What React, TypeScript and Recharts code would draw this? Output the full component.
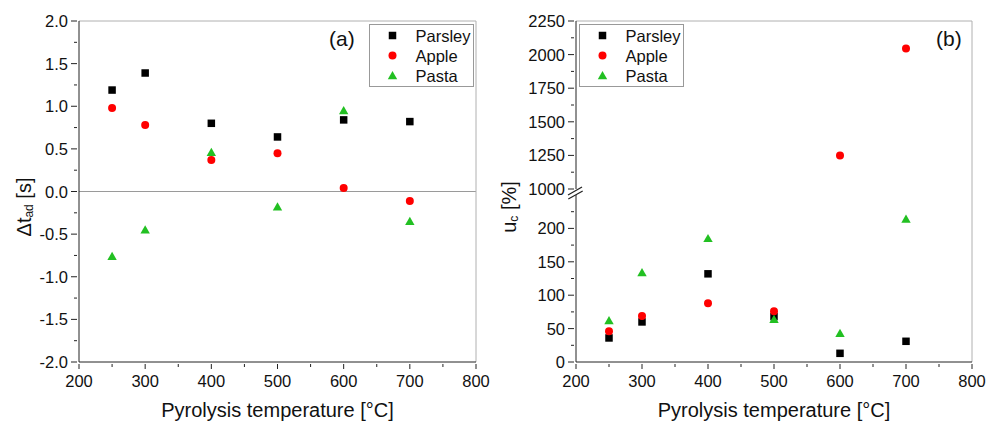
import React from "react";
import { ScatterChart, Scatter, XAxis, YAxis, ReferenceLine, Legend, Label } from "recharts";

// pyrolysis temperatures [°C]
const temps = [250, 300, 400, 500, 600, 700];

// (a) delta t_ad [s]
const parsleyDt = [1.19, 1.39, 0.8, 0.64, 0.84, 0.82];
const appleDt = [0.98, 0.78, 0.37, 0.45, 0.04, -0.11];
const pastaDt = [-0.76, -0.45, 0.46, -0.18, 0.95, -0.35];

// (b) u_c [%]
const parsleyUc = [36, 60, 132, 68, 13, 31];
const appleUc = [46, 69, 88, 76, 1250, 2045];
const pastaUc = [62, 134, 185, 64, 43, 214];

const xTicks = [200, 250, 300, 350, 400, 450, 500, 550, 600, 650, 700, 750, 800];
const dtTicks = [-2, -1.75, -1.5, -1.25, -1, -0.75, -0.5, -0.25, 0, 0.25, 0.5, 0.75, 1, 1.25, 1.5, 1.75, 2];
const ucLowTicks = [0, 25, 50, 75, 100, 125, 150, 175, 200, 225];
const ucHighTicks = [1000, 1125, 1250, 1375, 1500, 1625, 1750, 1875, 2000, 2125, 2250];
const BREAK = 1000;

const AXIS = "#222";
const FRAME = "#b0b0b0";
const TEXT = "#111";

type Kind = "square" | "circle" | "triangle";
const SERIES: { name: string; color: string; kind: Kind; dt: number[]; uc: number[] }[] = [
  { name: "Parsley", color: "#000000", kind: "square", dt: parsleyDt, uc: parsleyUc },
  { name: "Apple", color: "#ff0000", kind: "circle", dt: appleDt, uc: appleUc },
  { name: "Pasta", color: "#22c022", kind: "triangle", dt: pastaDt, uc: pastaUc },
];

function Marker({ kind, cx, cy, color }: { kind: Kind; cx: number; cy: number; color: string }) {
  if (kind === "square") return <rect x={cx - 3.75} y={cy - 3.75} width={7.5} height={7.5} fill={color} />;
  if (kind === "circle") return <circle cx={cx} cy={cy} r={4} fill={color} />;
  return <polygon points={`${cx},${cy - 4.5} ${cx - 4.7},${cy + 3.7} ${cx + 4.7},${cy + 3.7}`} fill={color} />;
}

const near = (v: number, step: number) => Math.abs(v / step - Math.round(v / step)) < 1e-6;

const xTick = (p: any) => {
  const v = p.payload.value;
  const major = near(v, 100);
  return (
    <g>
      <line x1={p.x} x2={p.x} y1={p.y} y2={p.y + (major ? 5 : 3)} stroke={AXIS} />
      {major && (
        <text x={p.x} y={p.y + 23} textAnchor="middle" fontSize={16.5} fill={TEXT}>
          {v}
        </text>
      )}
    </g>
  );
};

const yTick = (step: number, fmt: (v: number) => string) => (p: any) => {
  const v = p.payload.value;
  const major = near(v, step);
  return (
    <g>
      <line x1={p.x - (major ? 6 : 3)} x2={p.x} y1={p.y} y2={p.y} stroke={AXIS} />
      {major && (
        <text x={p.x - 9} y={p.y + 6} textAnchor="end" fontSize={16.5} fill={TEXT}>
          {fmt(v)}
        </text>
      )}
    </g>
  );
};

function LegendBox() {
  return (
    <svg width={105} height={63} style={{ display: "block" }}>
      <rect x={0.5} y={0.5} width={104} height={62} fill="#fff" stroke="#999" />
      {SERIES.map((s, i) => (
        <g key={s.name}>
          <Marker kind={s.kind} cx={23.5} cy={11.5 + 20 * i} color={s.color} />
          <text x={46.5} y={11.5 + 20 * i + 6} fontSize={16.5} fill={TEXT}>
            {s.name}
          </text>
        </g>
      ))}
    </svg>
  );
}

const rows = (vals: number[]) => temps.map((t, i) => ({ t, v: vals[i] }));

const xTitle = (
  <Label value="Pyrolysis temperature [°C]" position="insideBottom" offset={4} fontSize={20} fill={TEXT} />
);

export default function App() {
  return (
    <div
      style={{
        position: "absolute",
        left: 0,
        top: 0,
        width: 987,
        height: 421,
        background: "#fff",
        fontFamily: '"Liberation Sans", Arial, sans-serif',
      }}
    >
      {/* panel (a) */}
      <div style={{ position: "absolute", left: 0, top: 0 }}>
        <ScatterChart width={490} height={421} margin={{ top: 21, right: 14, bottom: 0, left: 0 }}>
          <XAxis
            type="number"
            dataKey="t"
            domain={[200, 800]}
            ticks={xTicks}
            interval={0}
            height={59}
            tickSize={0}
            tickLine={false}
            axisLine={{ stroke: AXIS }}
            tick={xTick}
          >
            {xTitle}
          </XAxis>
          <YAxis
            type="number"
            dataKey="v"
            domain={[-2, 2]}
            ticks={dtTicks}
            interval={0}
            width={79}
            tickSize={0}
            tickLine={false}
            axisLine={{ stroke: AXIS }}
            tick={yTick(0.5, (v) => v.toFixed(1))}
          >
            <Label
              content={() => (
                <text
                  x={24}
                  y={207}
                  transform="rotate(-90, 24, 207)"
                  textAnchor="middle"
                  dominantBaseline="central"
                  fontSize={20}
                  fill={TEXT}
                >
                  Δt
                  <tspan fontSize={12} dy={5}>
                    ad
                  </tspan>
                  <tspan dy={-5}> [s]</tspan>
                </text>
              )}
            />
          </YAxis>
          <ReferenceLine y={0} stroke="#9a9a9a" />
          <ReferenceLine y={2} stroke={FRAME} />
          <ReferenceLine x={800} stroke={FRAME} />
          {SERIES.map((s) => (
            <Scatter
              key={s.name}
              name={s.name}
              data={rows(s.dt)}
              isAnimationActive={false}
              shape={(p: any) => <Marker kind={s.kind} cx={p.cx} cy={p.cy} color={s.color} />}
            />
          ))}
          <Legend
            layout="vertical"
            align="center"
            verticalAlign="middle"
            content={() => <LegendBox />}
            wrapperStyle={{ left: 369, top: 24, width: 105, height: 63 }}
          />
        </ScatterChart>
      </div>

      {/* panel (b), lower segment 0-250 */}
      <div style={{ position: "absolute", left: 490, top: 0 }}>
        <ScatterChart width={497} height={421} margin={{ top: 195, right: 15, bottom: 0, left: 0 }}>
          <XAxis
            type="number"
            dataKey="t"
            domain={[200, 800]}
            ticks={xTicks}
            interval={0}
            height={59}
            tickSize={0}
            tickLine={false}
            axisLine={{ stroke: AXIS }}
            tick={xTick}
          >
            {xTitle}
          </XAxis>
          <YAxis
            type="number"
            dataKey="v"
            domain={[0, 250]}
            ticks={ucLowTicks}
            interval={0}
            width={86}
            tickSize={0}
            tickLine={false}
            axisLine={{ stroke: AXIS }}
            tick={yTick(50, (v) => String(v))}
          >
            <Label
              content={() => (
                <text
                  x={19}
                  y={207}
                  transform="rotate(-90, 19, 207)"
                  textAnchor="middle"
                  dominantBaseline="central"
                  fontSize={20}
                  fill={TEXT}
                >
                  u
                  <tspan fontSize={12} dy={5}>
                    c
                  </tspan>
                  <tspan dy={-5}> [%]</tspan>
                </text>
              )}
            />
          </YAxis>
          <ReferenceLine
            segment={[
              { x: 800, y: 0 },
              { x: 800, y: 259 },
            ]}
            ifOverflow="visible"
            stroke={FRAME}
          />
          {SERIES.map((s) => (
            <Scatter
              key={s.name}
              name={s.name}
              data={rows(s.uc).filter((r) => r.v < BREAK)}
              isAnimationActive={false}
              shape={(p: any) => <Marker kind={s.kind} cx={p.cx} cy={p.cy} color={s.color} />}
            />
          ))}
        </ScatterChart>
      </div>

      {/* panel (b), upper segment 1000-2250 */}
      <div style={{ position: "absolute", left: 490, top: 0 }}>
        <ScatterChart width={497} height={421} margin={{ top: 21, right: 15, bottom: 232, left: 0 }}>
          <XAxis type="number" dataKey="t" domain={[200, 800]} hide />
          <YAxis
            type="number"
            dataKey="v"
            domain={[1000, 2250]}
            ticks={ucHighTicks}
            interval={0}
            width={86}
            tickSize={0}
            tickLine={false}
            axisLine={{ stroke: AXIS }}
            tick={yTick(250, (v) => String(v))}
          />
          <ReferenceLine y={2250} stroke={FRAME} />
          <ReferenceLine x={800} stroke={FRAME} />
          {SERIES.map((s) => (
            <Scatter
              key={s.name}
              name={s.name}
              data={rows(s.uc).filter((r) => r.v >= BREAK)}
              isAnimationActive={false}
              shape={(p: any) => <Marker kind={s.kind} cx={p.cx} cy={p.cy} color={s.color} />}
            />
          ))}
          <Legend
            layout="vertical"
            align="center"
            verticalAlign="middle"
            content={() => <LegendBox />}
            wrapperStyle={{ left: 89, top: 24, width: 105, height: 63 }}
          />
        </ScatterChart>
      </div>

      {/* panel letters and axis break */}
      <svg
        width={987}
        height={421}
        style={{ position: "absolute", left: 0, top: 0, pointerEvents: "none" }}
      >
        <text x={329} y={46} fontSize={21} fill={TEXT}>
          (a)
        </text>
        <text x={936} y={46} fontSize={21} fill={TEXT}>
          (b)
        </text>
        <polygon points="568,195 582,187 582.7,191 568.3,199" fill="#fff" />
        <line x1={568} y1={195} x2={582} y2={187} stroke={AXIS} strokeWidth={1.2} />
        <line x1={568.3} y1={199} x2={582.7} y2={191} stroke={AXIS} strokeWidth={1.2} />
      </svg>
    </div>
  );
}
